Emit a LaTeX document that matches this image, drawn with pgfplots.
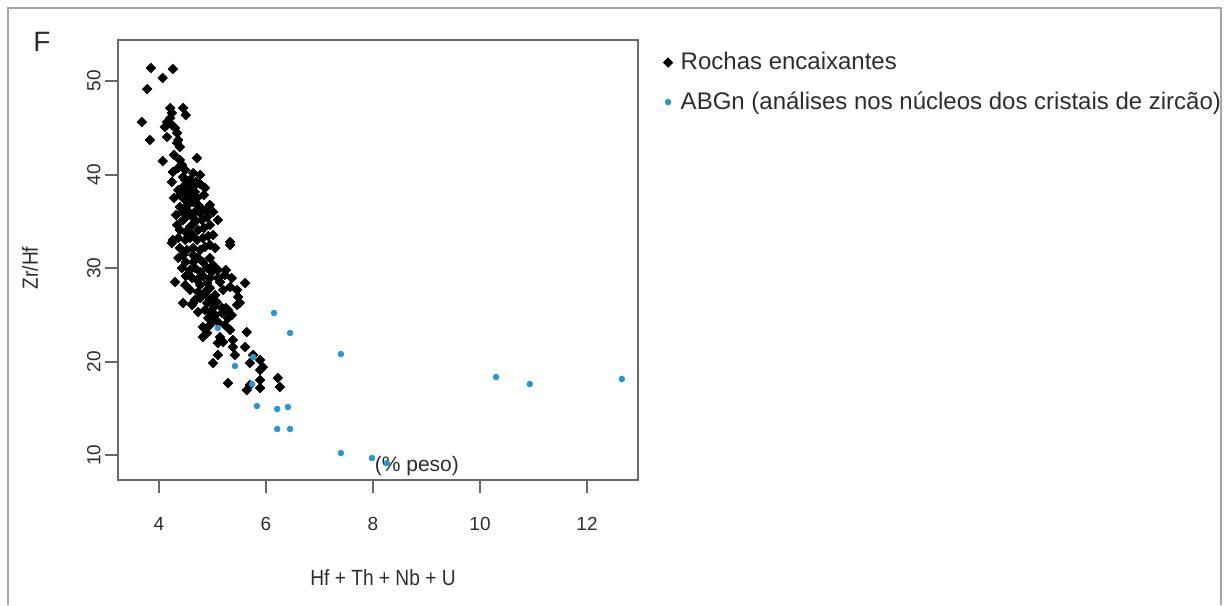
\documentclass[border=0pt]{standalone}
\usepackage{pgfplots}
\pgfplotsset{compat=1.18}
\usepackage{fontspec}
\setmainfont{Liberation Sans}
\definecolor{abgn}{RGB}{40,150,210}
\definecolor{txt}{RGB}{45,45,45}
\definecolor{boxc}{RGB}{105,105,105}

\pgfplotstableread{
x y
3.85 51.39
4.26 51.28
4.07 50.32
3.78 49.14
4.21 47.11
4.45 47.11
4.50 46.36
3.68 45.61
4.15 45.61
4.24 45.29
4.11 45.08
4.30 44.97
4.21 46.04
4.24 46.58
3.83 43.69
4.15 44.01
4.36 43.69
4.34 44.44
4.34 43.37
4.39 42.94
4.07 41.44
4.28 42.09
4.39 41.55
4.71 41.76
4.26 40.27
4.45 39.73
4.64 40.16
4.77 39.95
4.24 39.20
4.52 38.88
4.58 38.34
4.64 38.66
4.28 37.49
4.58 37.59
4.64 37.06
4.71 37.49
4.39 36.52
4.52 36.20
4.77 36.52
4.95 36.74
4.45 35.13
4.64 35.35
4.90 35.45
5.10 35.13
4.34 34.60
4.58 34.39
4.95 34.60
4.43 41.02
4.49 40.48
4.36 40.70
4.49 39.41
4.43 38.56
4.50 38.02
4.39 37.81
4.49 37.27
4.67 38.13
4.45 35.99
4.54 35.67
4.67 35.99
4.77 35.88
4.39 34.06
4.50 33.85
4.62 33.53
4.73 34.06
4.84 34.28
4.32 35.67
4.67 34.92
4.80 35.13
4.54 36.74
4.36 38.34
4.58 39.41
4.69 39.20
4.84 37.81
4.73 36.74
4.88 36.20
5.01 35.99
4.86 38.56
4.77 38.98
4.26 33.00
4.24 32.67
5.33 32.78
5.33 32.46
4.45 31.39
4.64 32.14
4.64 31.39
4.64 30.64
4.95 31.07
5.01 30.32
4.30 28.50
4.49 28.18
4.71 28.72
4.77 28.18
4.90 28.40
5.05 27.11
5.20 27.65
5.33 27.97
5.46 27.65
5.61 28.40
4.45 26.26
4.62 26.04
4.90 26.26
5.08 26.36
5.18 25.72
5.29 25.51
5.46 26.04
5.48 26.90
4.36 33.21
4.49 33.00
4.58 33.21
4.71 33.00
4.82 33.21
4.92 33.42
5.01 33.53
4.39 32.14
4.52 31.93
4.77 31.93
4.86 32.25
4.95 32.46
5.05 32.14
4.36 31.07
4.50 30.64
4.73 31.07
4.82 30.64
4.90 30.00
4.43 30.00
4.58 29.79
4.67 30.00
4.77 29.57
4.99 29.57
5.10 29.79
5.25 29.79
4.50 29.14
4.62 28.93
4.82 29.14
4.95 28.93
5.10 28.93
5.23 29.25
4.58 27.65
4.73 27.43
4.86 27.43
4.95 27.86
5.14 28.50
5.36 28.93
4.77 26.79
4.92 26.90
4.99 26.58
4.67 26.58
4.64 26.26
5.51 26.26
4.82 23.69
4.90 23.05
4.82 22.62
5.14 22.62
5.20 22.09
5.10 21.98
5.33 23.37
5.38 22.30
5.38 21.55
5.64 23.15
5.61 21.55
5.10 20.70
5.42 20.70
5.76 20.70
5.01 19.84
5.70 19.84
5.89 20.16
5.94 19.41
5.89 19.09
5.29 17.70
5.64 16.95
5.70 17.49
5.89 18.02
5.89 17.17
6.22 18.24
6.26 17.27
4.86 25.51
4.95 25.29
5.05 24.97
5.18 25.19
5.29 24.65
4.99 24.44
5.10 24.22
5.23 23.90
4.92 24.65
5.36 24.97
5.03 25.83
4.73 25.29
4.95 23.90
5.25 25.72
}\rochas

\pgfplotstableread{
x y
6.15 25.19
6.45 23.05
5.10 23.58
7.40 20.80
5.76 20.48
5.42 19.52
5.74 17.59
5.83 15.24
6.21 14.92
6.41 15.13
6.21 12.78
6.45 12.78
7.40 10.21
7.98 9.68
8.26 9.14
10.30 18.34
10.93 17.59
12.65 18.13
}\abgntab

\begin{document}
\begin{tikzpicture}
% panel frame, open at the bottom
\draw[black!35, line width=0.6pt] (4pt,0) -- (4pt,298.5pt) -- (610.5pt,298.5pt) -- (610.5pt,0);
\node[font=\fontsize{14}{16}\selectfont, text=txt] at (21pt,281.5pt) {F};
% axis titles
\node[font=\fontsize{11}{13}\selectfont, text=txt] at (191.5pt,13.5pt) {\scalebox{0.87}[1]{Hf + Th + Nb + U}};
\node[font=\fontsize{11}{13}\selectfont, text=txt, rotate=90] at (15pt,168.5pt) {\scalebox{0.87}[1]{Zr/Hf}};

\begin{axis}[
  at={(59pt,62.5pt)}, anchor=south west,
  width=260pt, height=220pt, scale only axis,
  xmin=3.234, xmax=12.953, ymin=7.33, ymax=54.385,
  xtick={4,6,8,10,12}, ytick={10,20,30,40,50},
  minor tick num=0,
  xtick pos=left, ytick pos=left,
  tick align=inside, major tick length=-6.5pt,
  axis line style={boxc, line width=1pt},
  tick style={boxc, line width=1pt},
  tick label style={font=\fontsize{9.5}{11}\selectfont, text=txt},
  /pgf/number format/assume math mode=true,
  yticklabel style={rotate=90, anchor=south, inner sep=0pt, yshift=8.5pt},
  xticklabel style={anchor=north, inner sep=0pt, yshift=-18.5pt},
  legend cell align=left,
  legend image code/.code={\draw[mark repeat=2, mark phase=1, #1] plot coordinates {(0pt,0pt) (4pt,0pt)};},
  legend style={at={(axis description cs:1,1)}, anchor=north west,
    xshift=9.5pt, yshift=-2pt, draw=none, fill=none, column sep=2pt,
    font=\fontsize{12}{14}\selectfont, text=txt, row sep=5.5pt},
  clip=false,
]
\addplot[only marks, mark=square*, mark size=1.65pt,
  mark options={rotate=45, draw=black, fill=black}] table {\rochas};
\addlegendentry{Rochas encaixantes}
\addplot[only marks, mark=*, mark size=1.4pt,
  mark options={draw=abgn, fill=abgn}] table {\abgntab};
\addlegendentry{ABGn (análises nos núcleos dos cristais de zircão)}
\node[font=\fontsize{10.5}{12}\selectfont, text=txt] at (axis cs:8.82,8.82) {(\% peso)};
\end{axis}
\path (0,0) rectangle (615.5pt,302.5pt);
\end{tikzpicture}
\end{document}
